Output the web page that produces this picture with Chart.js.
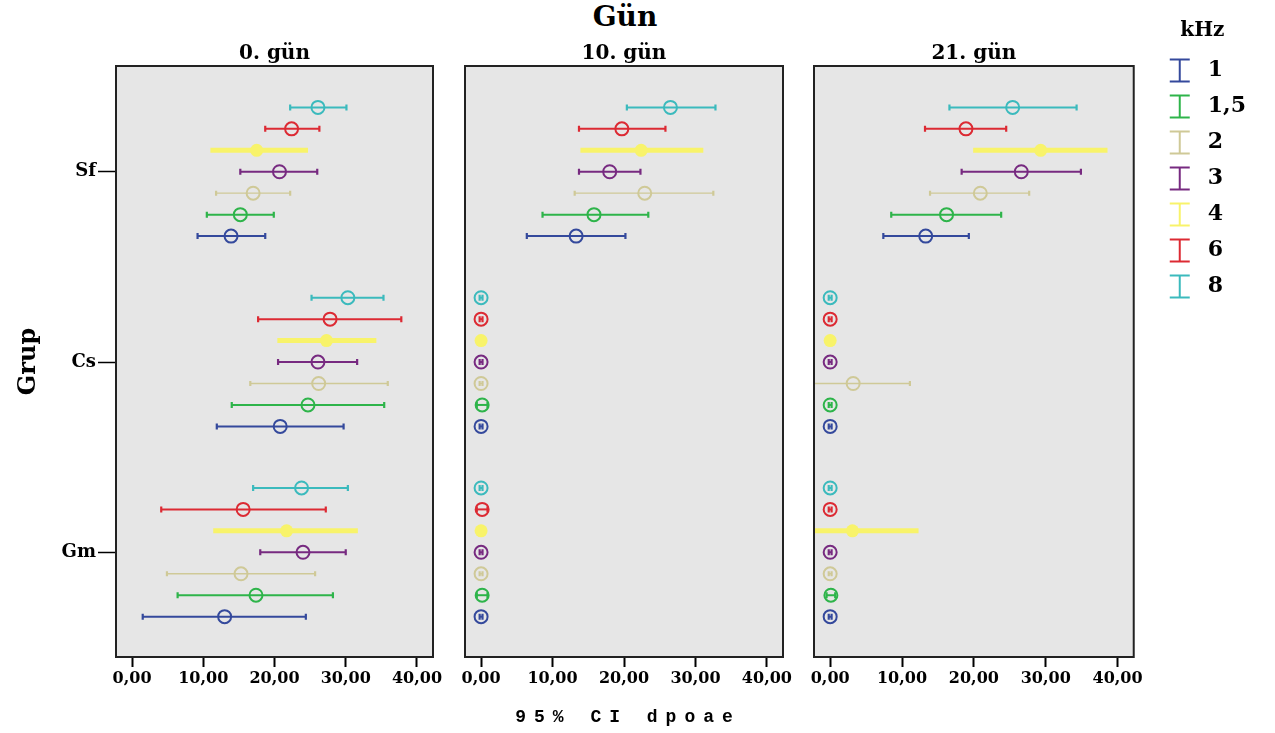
<!DOCTYPE html>
<html>
<head>
<meta charset="utf-8">
<script src="https://cdn.jsdelivr.net/npm/chart.js@4.4.1/dist/chart.umd.min.js"></script>
<style>
  html, body { margin: 0; padding: 0; background: #fff; }
  body { width: 1275px; height: 733px; position: relative; overflow: hidden; }
  canvas { position: absolute; top: 0; }
  #mainTitle { position: absolute; left: 525px; width: 200px; top: 0; line-height: 34px; text-align: center; font: bold 28px "DejaVu Serif", serif; }
  #xTitle { position: absolute; left: 478px; width: 300px; top: 707px; line-height: 24px; text-align: center; font: bold 18px "Liberation Mono", monospace; letter-spacing: 8px; white-space: pre; }
</style>
</head>
<body>
<div id="mainTitle">Gün</div>
<canvas id="day0" width="470" height="733" style="left:0px"></canvas>
<canvas id="day10" width="370" height="733" style="left:440px"></canvas>
<canvas id="day21" width="485" height="733" style="left:790px"></canvas>
<div id="xTitle">95% CI dpoae</div>
<script>
// groups on the y axis and kHz series
const groups = ['Sf', 'Cs', 'Gm'];
const groupPos = [4.93, 13.8, 22.67];
const khzLabels = ['1', '1,5', '2', '3', '4', '6', '8'];
const xTicks = [0, 10, 20, 30, 40];
const dayTitles = ['0. gün', '10. gün', '21. gün'];

// rows: Sf, Cs, Gm ; columns: kHz 1, 1.5, 2, 3, 4, 6, 8
const day0Mean = [
  [13.9, 15.2, 17.0, 20.7, 17.5, 22.4, 26.1],
  [20.8, 24.7, 26.2, 26.1, 27.3, 27.8, 30.3],
  [13.0, 17.4, 15.3, 24.0, 21.7, 15.6, 23.8]
];
const day0Low = [
  [9.2, 10.5, 11.8, 15.2, 11.0, 18.7, 22.2],
  [11.9, 14.0, 16.6, 20.5, 20.4, 17.7, 25.2],
  [1.5, 6.4, 4.9, 18.0, 11.4, 4.1, 17.0]
];
const day0High = [
  [18.7, 19.9, 22.2, 26.0, 24.7, 26.3, 30.1],
  [29.7, 35.4, 35.9, 31.6, 34.3, 37.8, 35.3],
  [24.4, 28.2, 25.7, 30.0, 31.7, 27.2, 30.3]
];

const day10Mean = [
  [13.3, 15.8, 22.9, 18.0, 22.4, 19.7, 26.5],
  [0.0, 0.15, 0.0, 0.0, 0.0, 0.0, 0.0],
  [0.0, 0.15, 0.0, 0.0, 0.0, 0.15, 0.0]
];
const day10Low = [
  [6.4, 8.6, 13.1, 13.7, 13.9, 13.7, 20.4],
  [-0.2, -0.6, -0.2, -0.2, -0.4, -0.2, -0.2],
  [-0.2, -0.6, -0.2, -0.2, -0.4, -0.6, -0.2]
];
const day10High = [
  [20.2, 23.4, 32.5, 22.3, 31.1, 25.8, 32.8],
  [0.2, 0.9, 0.2, 0.2, 0.4, 0.2, 0.2],
  [0.2, 0.9, 0.2, 0.2, 0.4, 0.9, 0.2]
];

const day21Mean = [
  [13.3, 16.2, 20.9, 26.6, 29.3, 18.9, 25.4],
  [0.0, 0.0, 3.2, 0.0, 0.0, 0.0, 0.0],
  [0.0, 0.1, 0.0, 0.0, 3.1, 0.0, 0.0]
];
const day21Low = [
  [7.4, 8.5, 13.9, 18.3, 19.9, 13.2, 16.6],
  [-0.2, -0.2, -4.7, -0.2, -0.4, -0.2, -0.2],
  [-0.2, -0.5, -0.2, -0.2, -6.1, -0.2, -0.2]
];
const day21High = [
  [19.3, 23.8, 27.7, 34.9, 38.6, 24.5, 34.3],
  [0.2, 0.2, 11.1, 0.2, 0.4, 0.2, 0.2],
  [0.2, 0.7, 0.2, 0.2, 12.3, 0.2, 0.2]
];

// styles
const colors = ['#34499c', '#2eb44a', '#cfc997', '#772a80', '#f8f36a', '#dc2a33', '#3bbabd'];
const barWidths = [2, 2, 1.3, 2, 5, 2, 2];
const capSizes = [3, 3, 2.5, 3, 0, 3, 3];
const serif = '"DejaVu Serif", serif';

function makeDatasets(mean, low, high) {
    return khzLabels.map(function(k, i) {
        return {
            label: k,
            yAxisID: 'y',
            data: groups.map(function(g, j) { return { x: mean[j][i], y: groupPos[j] + 3 - i }; }),
            errLow: groups.map(function(g, j) { return low[j][i]; }),
            errHigh: groups.map(function(g, j) { return high[j][i]; }),
            borderColor: colors[i],
            backgroundColor: i === 4 ? colors[i] : 'rgba(0,0,0,0)',
            pointRadius: 6.5,
            pointBorderWidth: i === 4 ? 0 : 2,
            barWidth: barWidths[i],
            capSize: capSizes[i]
        };
    });
}

// gray panel with a black frame
const panelFrame = {
    id: 'panelFrame',
    beforeDraw: function(chart) {
        var a = chart.chartArea, ctx = chart.ctx;
        ctx.save();
        ctx.fillStyle = '#e6e6e6';
        ctx.fillRect(a.left, a.top, a.width, a.height);
        ctx.restore();
    },
    afterDraw: function(chart) {
        var a = chart.chartArea, ctx = chart.ctx;
        ctx.save();
        ctx.strokeStyle = '#222';
        ctx.lineWidth = 2;
        ctx.strokeRect(a.left, a.top, a.width, a.height);
        ctx.restore();
    }
};

// 95% CI whiskers, drawn under the mean markers
const errorBars = {
    id: 'errorBars',
    beforeDatasetDraw: function(chart, args) {
        var ds = chart.data.datasets[args.index];
        var xs = chart.scales.x, a = chart.chartArea, ctx = chart.ctx;
        ctx.save();
        ctx.beginPath();
        ctx.rect(a.left, a.top, a.width, a.height);
        ctx.clip();
        ctx.strokeStyle = ds.borderColor;
        args.meta.data.forEach(function(pt, j) {
            var x1 = xs.getPixelForValue(ds.errLow[j]);
            var x2 = xs.getPixelForValue(ds.errHigh[j]);
            ctx.lineWidth = ds.barWidth;
            ctx.beginPath();
            ctx.moveTo(x1, pt.y);
            ctx.lineTo(x2, pt.y);
            ctx.stroke();
            if (ds.capSize) {
                ctx.lineWidth = 2.2;
                ctx.beginPath();
                ctx.moveTo(x1, pt.y - ds.capSize);
                ctx.lineTo(x1, pt.y + ds.capSize);
                ctx.moveTo(x2, pt.y - ds.capSize);
                ctx.lineTo(x2, pt.y + ds.capSize);
                ctx.stroke();
            }
        });
        ctx.restore();
    }
};

function makeIcon(color) {
    var c = document.createElement('canvas');
    c.width = 24; c.height = 26;
    var g = c.getContext('2d');
    g.strokeStyle = color;
    g.lineWidth = 2;
    g.beginPath();
    g.moveTo(12, 2); g.lineTo(12, 24);
    g.moveTo(2, 2); g.lineTo(22, 2);
    g.moveTo(2, 24); g.lineTo(22, 24);
    g.stroke();
    return c;
}
const legendIcons = colors.map(makeIcon);

function makeChart(id, title, mean, low, high, opts) {
    var scales = {
        x: {
            type: 'linear',
            min: -2.25,
            max: 42.25,
            afterBuildTicks: function(s) { s.ticks = xTicks.map(function(v) { return { value: v }; }); },
            afterFit: function(s) { s.height = 76; },
            ticks: {
                callback: function(v) { return v.toFixed(2).replace('.', ','); },
                font: { family: serif, size: 16, weight: 'bold' },
                color: '#000',
                padding: 2,
                maxRotation: 0,
                autoSkip: false
            },
            grid: { drawOnChartArea: false, drawTicks: true, tickLength: 10, tickWidth: 2, tickColor: '#000' },
            border: { display: false }
        },
        y: {
            type: 'linear',
            reverse: true,
            min: 0,
            max: 27.55,
            display: opts.showY,
            afterBuildTicks: function(s) { s.ticks = groupPos.map(function(v) { return { value: v }; }); },
            afterFit: function(s) { if (opts.showY) { s.width = 116; } },
            ticks: {
                callback: function(v) { return groups[groupPos.indexOf(v)]; },
                font: { family: serif, size: 18, weight: 'bold' },
                color: '#000',
                padding: 2,
                autoSkip: false
            },
            grid: { drawOnChartArea: false, drawTicks: true, tickLength: 18, tickWidth: 1.5, tickColor: '#000' },
            border: { display: false },
            title: {
                display: true,
                text: 'Grup',
                font: { family: serif, size: 24, weight: 'bold' },
                color: '#000',
                padding: { top: 14, bottom: 0 }
            }
        }
    };
    if (opts.legend) {
        scales.yr = {
            type: 'linear',
            position: 'right',
            display: true,
            ticks: { display: false },
            grid: { display: false },
            border: { display: false },
            afterFit: function(s) { s.width = 15; }
        };
    }
    return new Chart(document.getElementById(id), {
        type: 'scatter',
        data: { datasets: makeDatasets(mean, low, high) },
        options: {
            responsive: false,
            animation: false,
            events: [],
            layout: { padding: { left: opts.padLeft, right: opts.padRight, top: 10, bottom: 0 } },
            plugins: {
                title: {
                    display: true,
                    text: title,
                    fullSize: false,
                    font: { family: serif, size: 20, weight: 'bold' },
                    color: '#000',
                    padding: { top: 32, bottom: 0 }
                },
                legend: opts.legend ? {
                    display: true,
                    position: 'right',
                    align: 'start',
                    title: {
                        display: true,
                        text: 'kHz',
                        font: { family: serif, size: 20, weight: 'bold' },
                        color: '#000',
                        padding: { top: 11, bottom: 0.5 }
                    },
                    labels: {
                        usePointStyle: true,
                        pointStyleWidth: 34,
                        padding: 14,
                        color: '#000',
                        font: { family: serif, size: 22, weight: 'bold' },
                        generateLabels: function(chart) {
                            return chart.data.datasets.map(function(ds, i) {
                                return {
                                    text: ds.label,
                                    pointStyle: legendIcons[i],
                                    fillStyle: ds.borderColor,
                                    strokeStyle: ds.borderColor,
                                    lineWidth: 0,
                                    hidden: false,
                                    datasetIndex: i,
                                    fontColor: '#000'
                                };
                            });
                        }
                    }
                } : { display: false },
                tooltip: { enabled: false }
            },
            scales: scales
        },
        plugins: [panelFrame, errorBars]
    });
}

makeChart('day0', dayTitles[0], day0Mean, day0Low, day0High, { showY: true, padLeft: 0, padRight: 37 });
makeChart('day10', dayTitles[1], day10Mean, day10Low, day10High, { showY: false, padLeft: 25, padRight: 27 });
makeChart('day21', dayTitles[2], day21Mean, day21Low, day21High, { showY: false, padLeft: 24, padRight: 19, legend: true });
</script>
</body>
</html>
